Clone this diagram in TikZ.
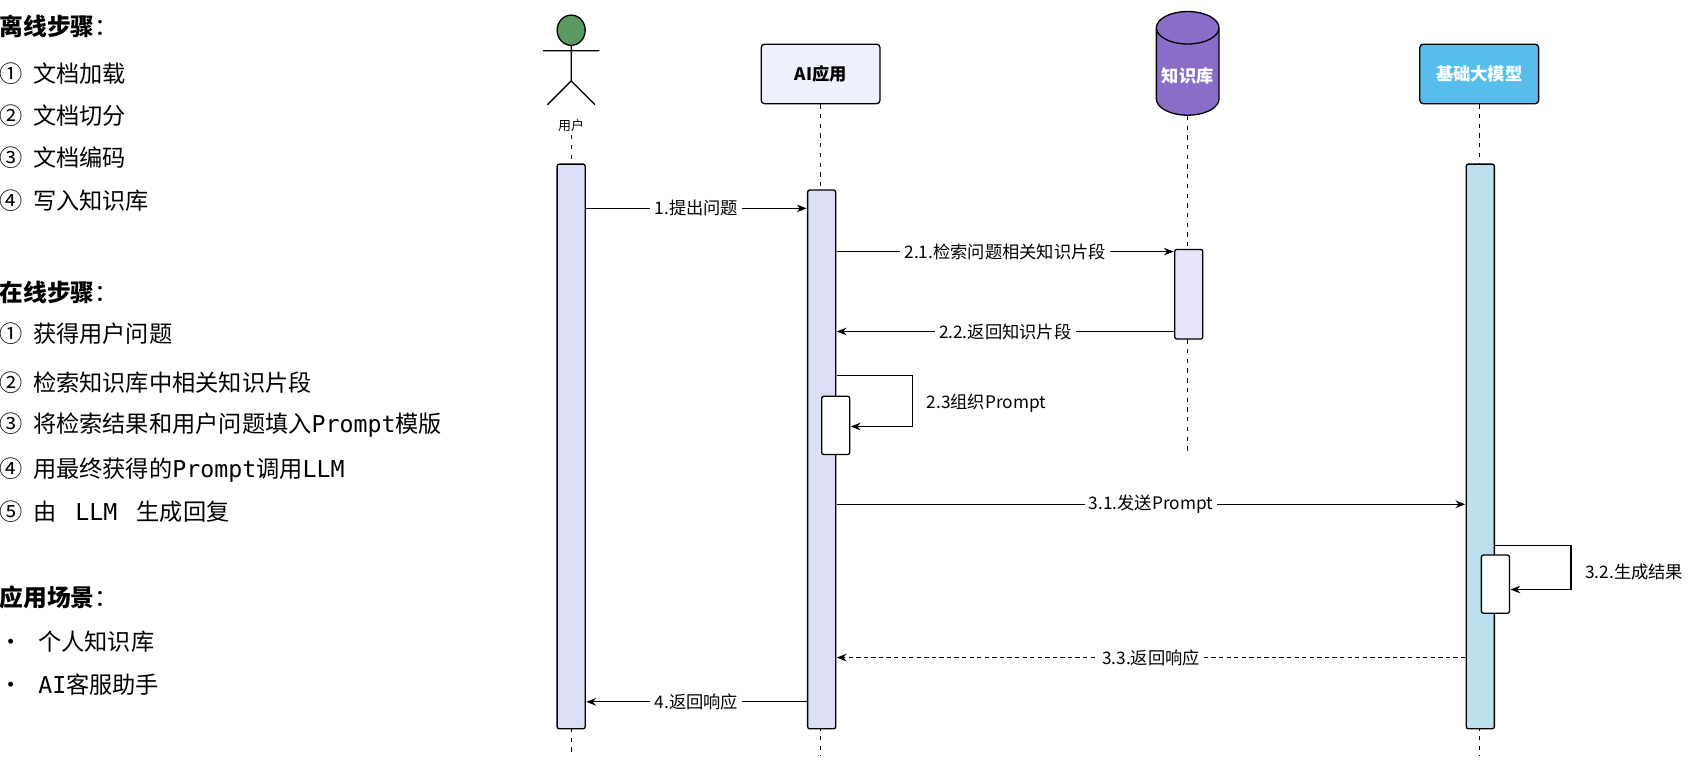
\documentclass[tikz,border=0pt]{standalone}
\usepackage{fontspec}
\setmainfont{Noto Sans CJK SC}
\newfontfamily\monofont{DejaVu Sans Mono}
\usetikzlibrary{shapes.geometric,arrows.meta}
\newcommand{\mn}[1]{{\monofont #1}}
\definecolor{userbar}{HTML}{DCDFF5}
\definecolor{appfill}{HTML}{EEF1FB}
\definecolor{kbfill}{HTML}{8A6CC9}
\definecolor{kbbar}{HTML}{E8E2FB}
\definecolor{llmfill}{HTML}{56BDEC}
\definecolor{llmbar}{HTML}{BDE0EF}
\definecolor{headgreen}{HTML}{5A9A60}
\tikzset{
  head/.style = {draw, line width=1.2pt, rounded corners=3pt, minimum width=110pt, minimum height=55pt, font=\bfseries\fontsize{16}{18}\selectfont},
  bar/.style = {draw, line width=1.2pt, rounded corners=2pt, minimum width=26pt},
  life/.style = {dashed, line width=1pt, dash pattern=on 4pt off 5pt},
  msg/.style = {-{Stealth[length=9pt,width=7pt]}, line width=1.2pt},
  lbl/.style = {fill=white, inner sep=4pt, font=\fontsize{16}{18}\selectfont},
  txt/.style = {anchor=west, font=\fontsize{21.5}{24}\selectfont},
  hd/.style = {anchor=west, font=\bfseries\fontsize{22}{24}\selectfont}
}
\begin{document}
\begin{tikzpicture}[x=1pt, y=-1pt]
\useasboundingbox (0,0) rectangle (1568,711);

% left text
\node[hd] (h1) at (-4,24) {离线步骤\normalfont：};
\node[txt] (t1) at (-4,68) {①\ \ 文档加载};
\node[txt] (t2) at (-4,107) {②\ \ 文档切分};
\node[txt] (t3) at (-4,146) {③\ \ 文档编码};
\node[txt] (t4) at (-4,186) {④\ \ 写入知识库};
\node[hd] (h2) at (-4,271) {在线步骤\normalfont：};
\node[txt] (t5) at (-4,309) {①\ \ 获得用户问题};
\node[txt] (t6) at (-4,354) {②\ \ 检索知识库中相关知识片段};
\node[txt] (t7) at (-4,394) {③\ \ 将检索结果和用户问题填入\mn{Prompt}模版};
\node[txt] (t8) at (-4,435) {④\ \ 用最终获得的\mn{Prompt}调用\mn{LLM}};
\node[txt] (t9) at (-4,474) {⑤\ \ 由 \mn{\ LLM\ } 生成回复};
\node[hd] (h3) at (-4,553) {应用场景\normalfont：};
\node[txt] (t10) at (-4,594) {•\ \ \ 个人知识库};
\node[txt] (t11) at (-4,634) {•\ \ \ \mn{AI}客服助手};

% participants
\draw[line width=1.2pt, fill=headgreen] (529,28) ellipse (13pt and 14pt);
\draw[line width=1.2pt] (529,42) -- (529,75) (503,47) -- (555,47)
  (507,97) -- (529,75) -- (551,97);
\node[font=\fontsize{12}{14}\selectfont] (u) at (529,116) {用户};
\node[head, fill=appfill] (app) at (760,68.5) {AI应用};
\node[draw, line width=1.2pt, fill=kbfill, cylinder, shape border rotate=90, aspect=0.55,
  minimum width=58pt, minimum height=96pt, text=white, font=\bfseries\fontsize{16}{18}\selectfont] (kb) at (1100,70) {\raisebox{-8pt}{知识库}};
\node[head, fill=llmfill, text=white] (llm) at (1370,68.5) {基础大模型};

% lifelines
\coordinate (ue) at (529,700);
\coordinate (ae) at (760,700);
\coordinate (ke) at (1100,422);
\coordinate (le) at (1370,700);
\draw[life] (u) -- (ue);
\draw[life] (app) -- (ae);
\draw[life] (kb) -- (ke);
\draw[life] (llm) -- (le);

% activation bars
\node[bar, fill=userbar, minimum height=523pt] (ub) at (529,413.5) {};
\node[bar, fill=userbar, minimum height=499pt] (ab) at (761,425.5) {};
\node[bar, fill=kbbar, minimum height=83pt] (kbb) at (1101,272.5) {};
\node[bar, fill=white, minimum height=54pt] (ab2) at (774,394) {};
\node[bar, fill=llmbar, minimum height=523pt] (lb) at (1371,413.5) {};
\node[bar, fill=white, minimum height=54pt] (lb2) at (1385,541) {};

% messages
\coordinate (m1a) at (543,193);  \coordinate (m1b) at (747,193);
\coordinate (m2a) at (775,233);  \coordinate (m2b) at (1087,233);
\coordinate (m3a) at (1087,307); \coordinate (m3b) at (775,307);
\coordinate (m4a) at (775,348);  \coordinate (m4b) at (788,395);
\coordinate (m5a) at (775,467);  \coordinate (m5b) at (1357,467);
\coordinate (m6a) at (1385,505); \coordinate (m6b) at (1399,546);
\coordinate (m7a) at (1357,609); \coordinate (m7b) at (775,609);
\coordinate (m8a) at (747,650);  \coordinate (m8b) at (543,650);

\draw[msg] (m1a) -- node[lbl] {1.提出问题} (m1b);
\draw[msg] (m2a) -- node[lbl] {2.1.检索问题相关知识片段} (m2b);
\draw[msg] (m3a) -- node[lbl] {2.2.返回知识片段} (m3b);
\draw[msg] (m4a) -- (845,348) -- (845,395) -- (m4b);
\node[lbl, anchor=west] (l4) at (854,373) {2.3组织Prompt};
\draw[msg] (m5a) -- node[lbl] {3.1.发送Prompt} (m5b);
\draw[msg] (m6a) -- (1455,505) -- (1455,546) -- (m6b);
\node[lbl, anchor=west] (l6) at (1464,530) {3.2.生成结果};
\draw[msg, dashed, dash pattern=on 4pt off 3pt] (m7a) -- node[lbl] {3.3.返回响应} (m7b);
\draw[msg] (m8a) -- node[lbl] {4.返回响应} (m8b);
\end{tikzpicture}
\end{document}
